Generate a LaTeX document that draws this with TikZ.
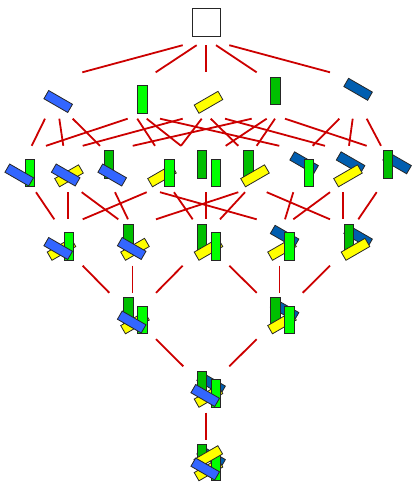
\documentclass[tikz,border=0pt]{standalone}
\usepackage{xcolor}
\usepackage{tikz}
\usetikzlibrary{calc}
\definecolor{cobalt}{rgb}{0.20, 0.40, 1.00}
\definecolor{lime}{rgb}{0.00, 1.00, 0.00}
\definecolor{lemon}{rgb}{1.00, 1.00, 0.00}
\definecolor{leaf}{rgb}{0.00, 0.75, 0.00}
\definecolor{marine}{rgb}{0.00, 0.37, 0.69}
\definecolor{crimson}{rgb}{0.8, 0, 0}

% one stick each, placed relative to the centre of a cell
\newcommand\stickA[1]{\node[slanted,fill=cobalt,rotate=-30] at ($(#1)+(-0.8,6)$) {};}
\newcommand\stickB[1]{\node[upright,fill=lime] at ($(#1)+(9.7,4)$) {};}
\newcommand\stickC[1]{\node[slanted,fill=lemon,rotate=30] at ($(#1)+(2.5,6.8)$) {};}
\newcommand\stickD[1]{\node[upright,fill=leaf] at ($(#1)+(-4.3,-4.5)$) {};}
\newcommand\stickE[1]{\node[slanted,fill=marine,rotate=-30] at ($(#1)+(5.1,-6.2)$) {};}
\newcommand\stickF[1]{\node[slanted,fill=lemon,rotate=30] at ($(#1)+(2.3,-6.3)$) {};}
\newcommand\scene[2]{\foreach \s in {#2}{\csname stick\s\endcsname{#1}}}
\newcommand\covers[4]{\draw[cover] ([xshift=#2pt]#1.south) -- ([xshift=#4pt]#3.north);}

\begin{document}
\begin{tikzpicture}[x=1pt,y=-1pt]
	\tikzstyle{cell} = [inner sep=0pt,minimum width=46pt,minimum height=46pt]
	\tikzstyle{stick} = [draw=black!85,line width=0.8pt,inner sep=0pt]
	\tikzstyle{upright} = [stick,minimum width=9.5pt,minimum height=27.5pt]
	\tikzstyle{slanted} = [stick,minimum width=27.5pt,minimum height=9.5pt]
	\tikzstyle{cover} = [crimson,line width=1.8pt]

	\useasboundingbox (0,0) rectangle (414,483);

	% Cells, row by row
	\node[cell] (top) at (206,22) {};
	\foreach \n/\x in {a/59,b/132.5,c/206,d/279.5,e/353}
		\node[cell] (n\n) at (\x,95.5) {};
	\foreach \n/\x in {ab/20,ac/66.5,ad/113,bc/159.5,bd/206,cd/252.5,be/299,ce/345.5,de/392}
		\node[cell] (n\n) at (\x,169) {};
	\foreach \n/\x in {abc/59,acd/132.5,bcd/206,bce/279.5,cde/353}
		\node[cell] (n\n) at (\x,242.5) {};
	\node[cell] (nabcd) at (132.5,316) {};
	\node[cell] (nbcde) at (279.5,316) {};
	\node[cell] (nabcde) at (206,389.5) {};
	\node[cell] (nall) at (206,463) {};

	% Covering lines
	\covers{top}{-23.3}{na}{23.3}
	\covers{top}{-9.3}{nb}{23.2}
	\covers{top}{0}{nc}{0}
	\covers{top}{10}{nd}{-22.8}
	\covers{top}{23.3}{ne}{-23}

	\covers{na}{-14}{nab}{11.7}
	\covers{na}{0.3}{nac}{-3.2}
	\covers{na}{13.7}{nad}{-13}
	\covers{nb}{-4.8}{nab}{26}
	\covers{nb}{4.8}{nbc}{-4.5}
	\covers{nb}{14.2}{nbd}{-25}
	\covers{nb}{27.5}{nbe}{-19.7}
	\covers{nc}{-23.3}{nac}{16.2}
	\covers{nc}{-4.3}{nbc}{21.5}
	\covers{nc}{4.7}{ncd}{-14.2}
	\covers{nc}{19}{nce}{-20.5}
	\covers{nd}{-27.8}{nad}{19.7}
	\covers{nd}{-12.8}{nbd}{19.7}
	\covers{nd}{-4.5}{ncd}{4.2}
	\covers{nd}{5.5}{nde}{-25.3}
	\covers{ne}{-13.7}{nbe}{13.7}
	\covers{ne}{-0.3}{nce}{3.5}
	\covers{ne}{13.7}{nde}{-11}

	\covers{nab}{16}{nabc}{-4.7}
	\covers{nac}{1.8}{nabc}{9.3}
	\covers{nac}{15.2}{nacd}{-14.2}
	\covers{nad}{2}{nacd}{-4.5}
	\covers{ncd}{-14.2}{nacd}{23.5}
	\covers{nbc}{-12.8}{nabc}{23.7}
	\covers{nbc}{14.5}{nbcd}{-13.3}
	\covers{nbc}{0.5}{nbce}{-22.8}
	\covers{nbd}{0}{nbcd}{0}
	\covers{ncd}{-7.5}{nbcd}{14}
	\covers{ncd}{14.2}{ncde}{-23}
	\covers{nbe}{-5.7}{nbce}{5.5}
	\covers{nce}{-15.5}{nbce}{13.8}
	\covers{nce}{-2.2}{ncde}{-9.7}
	\covers{nde}{-15.3}{ncde}{5.3}

	\covers{nabc}{23.7}{nabcd}{-23.2}
	\covers{nacd}{0}{nabcd}{0}
	\covers{nbcd}{-23.3}{nabcd}{23.5}
	\covers{nbcd}{23.3}{nbcde}{-22.8}
	\covers{nbce}{0}{nbcde}{0}
	\covers{ncde}{-23}{nbcde}{23.2}

	\covers{nabcd}{23.5}{nabcde}{-22.7}
	\covers{nbcde}{-22.8}{nabcde}{23.3}
	\covers{nabcde}{0}{nall}{0}

	% The empty scene
	\node[stick,fill=white,minimum size=28pt] at (top) {};

	% Sticks in each cell, back to front
	\scene{na}{A}
	\scene{nb}{B}
	\scene{nc}{C}
	\scene{nd}{D}
	\scene{ne}{E}
	\scene{nab}{B,A}
	\scene{nac}{C,A}
	\scene{nad}{D,A}
	\scene{nbc}{C,B}
	\scene{nbd}{D,B}
	\scene{ncd}{D,C}
	\scene{nbe}{E,B}
	\scene{nce}{E,C}
	\scene{nde}{E,D}
	\scene{nabc}{C,B,A}
	\scene{nacd}{D,C,A}
	\scene{nbcd}{D,C,B}
	\scene{nbce}{E,C,B}
	\scene{ncde}{E,D,C}
	\scene{nabcd}{D,C,B,A}
	\scene{nbcde}{E,D,C,B}
	\scene{nabcde}{E,D,C,B,A}
	\scene{nall}{E,D,C,B,F,A}
\end{tikzpicture}
\end{document}
